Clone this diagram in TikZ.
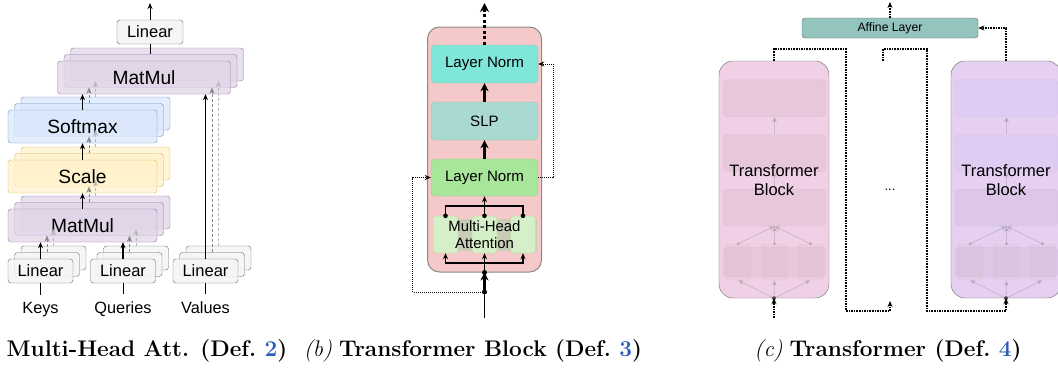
\documentclass[tikz,border=0pt]{standalone}
\usepackage{fontspec}
\newfontfamily\helv{Liberation Sans}
\usepackage{tikz}
\usetikzlibrary{arrows.meta, calc, positioning}
\definecolor{linFill}{HTML}{F5F5F5}
\definecolor{linDraw}{HTML}{666666}
\definecolor{mmFill}{HTML}{E1D5E7}
\definecolor{mmDraw}{HTML}{9673A6}
\definecolor{smFill}{HTML}{DAE8FC}
\definecolor{smDraw}{HTML}{6C8EBF}
\definecolor{scFill}{HTML}{FFF2CC}
\definecolor{scDraw}{HTML}{D6B656}
\definecolor{blockRed}{HTML}{F5C9C9}
\definecolor{blockEdge}{HTML}{8A8A8A}
\definecolor{normTop}{HTML}{80E6DA}
\definecolor{slpFill}{HTML}{A8D9D2}
\definecolor{normLow}{HTML}{A8E69C}
\definecolor{greenEdge}{HTML}{9BC58A}
\definecolor{headFill}{HTML}{D5EFC8}
\definecolor{headDraw}{HTML}{BAD690}
\definecolor{mhaBack}{HTML}{C8CDB8}
\definecolor{affineFill}{HTML}{93C4BD}
\definecolor{pinkBlock}{HTML}{F0D0E6}
\definecolor{purpleBlock}{HTML}{E6D0F2}
\definecolor{refBlue}{HTML}{2A5DB8}

\begin{document}
\begin{tikzpicture}[x=1pt, y=-1pt, >={Stealth[length=6pt, width=5pt]},
    box/.style={draw, rounded corners=3pt, inner sep=0pt, align=center},
    linbox/.style={box, fill=linFill, draw=linDraw, fill opacity=0.85, text opacity=1,
        minimum width=65, minimum height=24, font=\helv\fontsize{16.5}{18}\selectfont},
    mmbox/.style={box, fill=mmFill, draw=mmDraw, fill opacity=0.75, text opacity=1,
        minimum width=149, minimum height=33, font=\helv\fontsize{19.2}{22}\selectfont},
    smbox/.style={mmbox, fill=smFill, draw=smDraw},
    scbox/.style={mmbox, fill=scFill, draw=scDraw},
    headB/.style={->, densely dashed, gray!95},
    headC/.style={->, densely dashed, gray!55},
    lbl/.style={anchor=base, inner sep=7pt, font=\helv\fontsize{16.3}{18}\selectfont},
    normbox/.style={box, draw=greenEdge, minimum width=107, minimum height=38,
        rounded corners=4pt, font=\helv\fontsize{15.1}{17}\selectfont},
    headbox/.style={box, fill=headFill, draw=headDraw, minimum width=25, minimum height=37},
    res/.style={->, densely dotted, line width=1pt},
    cdots/.style={->, densely dotted, line width=1.6pt},
    tblock/.style={draw=linDraw, rounded corners=14pt, minimum width=110, minimum height=237},
    ghost/.style={draw=black, draw opacity=0.05, fill=black, fill opacity=0.04,
        rounded corners=4pt, minimum width=103, minimum height=37},
    ghosthead/.style={draw=orange!70!brown, draw opacity=0.18, fill=orange!40!gray,
        fill opacity=0.04, rounded corners=3pt, minimum width=25, minimum height=36},
    ghostline/.style={->, gray, opacity=0.3, line width=0.8pt},
    tbtext/.style={align=center, font=\helv\fontsize{16.5}{19}\selectfont},
    captxt/.style={font=\fontsize{22.6}{26}\selectfont}]
    \clip (0,0) rectangle (1058,367);

    % Multi-Head Att.
    \node[linbox] (keysC) at (53.5,258) {};
    \node[linbox] (keysB) at (47,264.5) {};
    \node[linbox] (keysA) at (40.5,271) {Linear};
    \node[linbox] (queriesC) at (136,258) {};
    \node[linbox] (queriesB) at (129.5,264.5) {};
    \node[linbox] (queriesA) at (123,271) {Linear};
    \node[linbox] (valuesC) at (218.5,258) {};
    \node[linbox] (valuesB) at (212,264.5) {};
    \node[linbox] (valuesA) at (205.5,271) {Linear};

    \node[mmbox] (mmLowC) at (95.5,212.5) {};
    \node[mmbox] (mmLowB) at (89,219) {};
    \node[mmbox] (mmLowA) at (82.5,225.5) {MatMul};
    \node[scbox] (scaleC) at (95.5,163.5) {};
    \node[scbox] (scaleB) at (89,170) {};
    \node[scbox] (scaleA) at (82.5,176.5) {Scale};
    \node[smbox] (softC) at (95.5,113.5) {};
    \node[smbox] (softB) at (89,120) {};
    \node[smbox] (softA) at (82.5,126.5) {Softmax};
    \node[mmbox, minimum width=173] (mmTopC) at (157,64.5) {};
    \node[mmbox, minimum width=173] (mmTopB) at (150.5,71) {};
    \node[mmbox, minimum width=173] (mmTopA) at (144,77.5) {MatMul};
    \node[linbox, minimum width=66, fill opacity=1] (linOut) at (150,32) {Linear};
    \coordinate (outA) at (150,3);

    \draw[->, line width=1.2pt] (keysA.north) -- (keysA.north |- mmLowA.south);
    \draw[headB] (keysB.north) -- (keysB.north |- mmLowB.south);
    \draw[headC] (keysC.north) -- (keysC.north |- mmLowC.south);
    \draw[->, line width=1.2pt] (queriesA.north) -- (queriesA.north |- mmLowA.south);
    \draw[headB] (queriesB.north) -- (queriesB.north |- mmLowB.south);
    \draw[headC] (queriesC.north) -- (queriesC.north |- mmLowC.south);
    \draw[->, line width=1.6pt] (mmLowA.north) -- (mmLowA.north |- scaleA.south);
    \draw[headB] (mmLowB.north) -- (mmLowB.north |- scaleB.south);
    \draw[headC] (mmLowC.north) -- (mmLowC.north |- scaleC.south);
    \draw[->, line width=1.6pt] (scaleA.north) -- (scaleA.north |- softA.south);
    \draw[headB] (scaleB.north) -- (scaleB.north |- softB.south);
    \draw[headC] (scaleC.north) -- (scaleC.north |- softC.south);
    \draw[->, line width=1.6pt] (softA.north) -- (softA.north |- mmTopA.south);
    \draw[headB] (softB.north) -- (softB.north |- mmTopB.south);
    \draw[headC] (softC.north) -- (softC.north |- mmTopC.south);
    \draw[->, line width=1pt] (valuesA.north) -- (valuesA.north |- mmTopA.south);
    \draw[headB] (valuesB.north) -- (valuesB.north |- mmTopB.south);
    \draw[headC] (valuesC.north) -- (valuesC.north |- mmTopC.south);
    \draw[line width=1pt] (linOut.south) -- (linOut.south |- mmTopB.north);
    \draw[->, line width=1pt] (linOut.north) -- (outA);

    \node[lbl] (keysLbl) at (40.5,313) {Keys};
    \node[lbl] (queriesLbl) at (123,313) {Queries};
    \node[lbl] (valuesLbl) at (205.5,313) {Values};
    \draw[line width=1pt] (keysLbl.north) -- (keysA.south);
    \draw[line width=1pt] (queriesLbl.north) -- (queriesA.south);
    \draw[line width=1pt] (valuesLbl.north) -- (valuesA.south);
    \node[captxt, anchor=base west] (capA) at (3,356)
        {\bfseries Multi-Head Att. (Def.~\textcolor{refBlue}{2})};

    % Transformer Block
    \node[draw=blockEdge, fill=blockRed, rounded corners=12pt, minimum width=114,
        minimum height=245, line width=1pt] (blockB) at (484.5,149.5) {};
    \node[normbox, fill=normTop] (normTopB) at (484.5,64) {Layer Norm};
    \node[normbox, fill=slpFill] (slpB) at (484.5,121) {SLP};
    \node[normbox, fill=normLow, minimum height=37] (normLowB) at (484.5,177.5) {Layer Norm};
    \node[fill=mhaBack, minimum width=104, minimum height=32, inner sep=0pt] (mhaB) at (485,235) {};
    \node[headbox] (headL) at (445.5,234.5) {};
    \node[headbox] (headM) at (484.5,234.5) {};
    \node[headbox] (headR) at (523,234.5) {};
    \node[align=center, font=\helv\fontsize{14.9}{17}\selectfont] (mhaTxt) at (484.5,234.5)
        {Multi-Head\\Attention};
    \coordinate (joinTop) at (484.5,206);
    \coordinate (joinBot) at (484.5,263);
    \coordinate (splitB) at (484.5,292);
    \coordinate (inB) at (484.5,318);
    \coordinate (outB) at (484.5,3);

    \draw[line width=1.2pt] (headL.north) |- (joinTop) -| (headR.north);
    \draw[line width=1.2pt] (headM.north) -- (joinTop);
    \draw[->, line width=1.2pt] (joinTop) -- (normLowB.south);
    \fill (headL.north) circle (2.3);
    \fill (headM.north) circle (2.3);
    \fill (headR.north) circle (2.3);
    \draw[->, line width=1.2pt] (joinBot) -| (headL.south);
    \draw[->, line width=1.2pt] (joinBot) -| (headR.south);
    \draw[->, line width=1.2pt] (joinBot) -- (headM.south);
    \draw[line width=1.2pt] (blockB.south) -- (joinBot);
    \draw[line width=1pt] (inB) -- (splitB);
    \draw[->, line width=2.5pt, >={Stealth[length=8pt, width=8pt]}] (splitB) -- (blockB.south);
    \fill (splitB) circle (2.5);
    \fill (blockB.south) circle (2.5);
    \draw[res] (splitB) -| ($(normLowB.west)+(-18,0)$) -- (normLowB.west);
    \draw[res] (normLowB.east) -- ++(15,0) |- (normTopB.east);
    \draw[->, line width=2.5pt, >={Stealth[length=8pt, width=8pt]}] (normLowB.north) -- (slpB.south);
    \draw[->, line width=2.5pt, >={Stealth[length=8pt, width=8pt]}] (slpB.north) -- (normTopB.south);
    \draw[->, line width=3pt, dash pattern=on 3pt off 2.5pt, >={Stealth[length=9pt, width=9pt]}]
        (normTopB.north) -- (outB);
    \node[captxt, anchor=base] (capB) at (473,356)
        {\textit{(b)} \bfseries Transformer Block (Def.~\textcolor{refBlue}{3})};

    % Transformer
    \node[box, fill=affineFill, draw=linDraw, minimum width=176, minimum height=20,
        font=\helv\fontsize{12.2}{14}\selectfont] (affine) at (890,28) {Affine Layer};

    \begin{scope}
        \node[tblock, fill=pinkBlock] (blockL) at (774,179.5) {};
        \node[ghost] (rowL1) at (774.5,98) {};
        \node[ghost] (rowL2) at (774.5,153) {};
        \node[ghost] (rowL3) at (774.5,207.5) {};
        \node[ghost, minimum height=30] (stripL) at (774.5,262) {};
        \node[ghosthead] (hdL1) at (738,262) {};
        \node[ghosthead] (hdL2) at (774.5,262) {};
        \node[ghosthead] (hdL3) at (810.5,262) {};
        \draw[ghostline] (rowL2.north) -- (rowL1.south);
        \draw[ghostline] (rowL3.north) -- (rowL2.south);
        \draw[ghostline] (hdL1.north) -- (rowL3.south);
        \draw[ghostline] (hdL2.north) -- (rowL3.south);
        \draw[ghostline] (hdL3.north) -- (rowL3.south);
        \draw[ghostline] (blockL.south) -- (hdL1.south);
        \draw[ghostline] (blockL.south) -- (hdL2.south);
        \draw[ghostline] (blockL.south) -- (hdL3.south);
        \fill[gray, opacity=0.4] (hdL1.north) circle (1.6) (hdL2.north) circle (1.6) (hdL3.north) circle (1.6);
        \fill[gray!60!black] (blockL.south) circle (2);
        \node[tbtext] (tbL) at (774,180) {Transformer\\Block};
    \end{scope}

    \begin{scope}[xshift=232]
        \node[tblock, fill=purpleBlock] (blockR) at (774,179.5) {};
        \node[ghost, fill=blue!60] (rowR1) at (774.5,98) {};
        \node[ghost, fill=blue!60] (rowR2) at (774.5,153) {};
        \node[ghost] (rowR3) at (774.5,207.5) {};
        \node[ghost, minimum height=30] (stripR) at (774.5,262) {};
        \node[ghosthead] (hdR1) at (738,262) {};
        \node[ghosthead] (hdR2) at (774.5,262) {};
        \node[ghosthead] (hdR3) at (810.5,262) {};
        \draw[ghostline] (rowR2.north) -- (rowR1.south);
        \draw[ghostline] (rowR3.north) -- (rowR2.south);
        \draw[ghostline] (hdR1.north) -- (rowR3.south);
        \draw[ghostline] (hdR2.north) -- (rowR3.south);
        \draw[ghostline] (hdR3.north) -- (rowR3.south);
        \draw[ghostline] (blockR.south) -- (hdR1.south);
        \draw[ghostline] (blockR.south) -- (hdR2.south);
        \draw[ghostline] (blockR.south) -- (hdR3.south);
        \fill[gray, opacity=0.4] (hdR1.north) circle (1.6) (hdR2.north) circle (1.6) (hdR3.north) circle (1.6);
        \fill[gray!60!black] (blockR.south) circle (2);
        \node[tbtext] (tbR) at (774,180) {Transformer\\Block};
    \end{scope}

    \coordinate (inC) at (774,318);
    \coordinate (outC) at (890,2);
    \coordinate (dotsIn) at (890,301);
    \coordinate (dotsOut) at (883,61);
    \node[font=\helv\fontsize{13}{15}\selectfont] (dotsC) at (890,190) {...};
    \draw[cdots] (inC) -- (blockL.south);
    \draw[cdots] (blockL.north) |- (846,49) -- (846,311) -| (dotsIn);
    \draw[cdots] (dotsOut) |- (927,49) -- (927,311) -| (blockR.south);
    \draw[cdots] (blockR.north) |- (affine.east);
    \draw[cdots] (affine.north) -- (outC);
    \node[captxt, anchor=base] (capC) at (888,356)
        {\textit{(c)} \bfseries Transformer (Def.~\textcolor{refBlue}{4})};
\end{tikzpicture}
\end{document}
